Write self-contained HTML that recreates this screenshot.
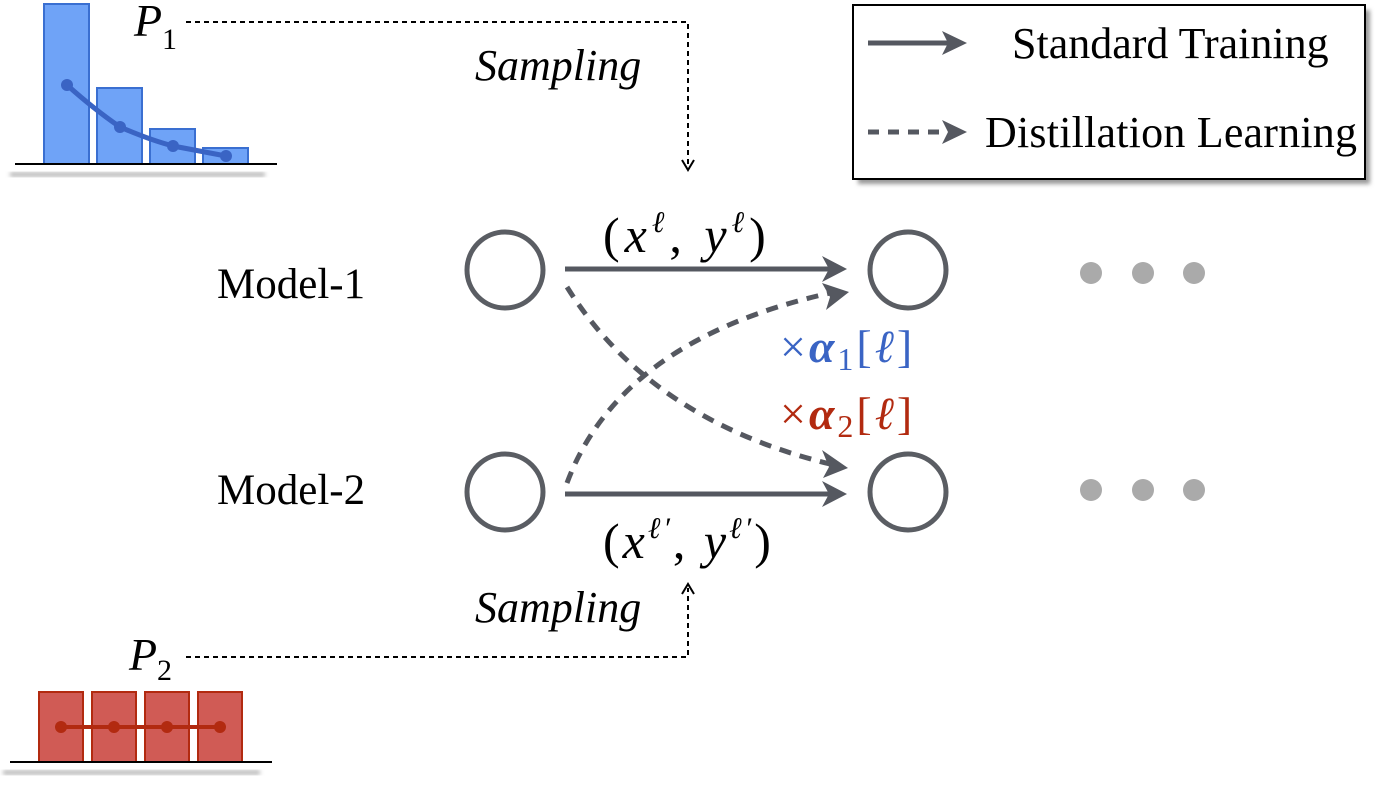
<!DOCTYPE html>
<html><head><meta charset="utf-8"><style>
html,body{margin:0;padding:0;background:#fff;}
svg{display:block;}
text{font-family:"Liberation Serif",serif;}
</style></head><body>
<svg width="1377" height="787" viewBox="0 0 1377 787" xmlns="http://www.w3.org/2000/svg">
<defs>
<filter id="blur"><feGaussianBlur stdDeviation="2"/></filter>
</defs>
<rect x="10" y="172" width="255" height="5" fill="#bbb" filter="url(#blur)"/>
<g fill="#6fa3f7" stroke="#3a6fd1" stroke-width="2">
<rect x="44" y="4" width="45" height="160"/>
<rect x="97" y="88" width="45" height="76"/>
<rect x="150" y="129" width="45" height="35"/>
<rect x="203" y="148" width="45" height="16"/>
</g>
<path d="M67 85 Q95 110 120 127 Q150 140 173 146 L226 156" fill="none" stroke="#3a64c4" stroke-width="5"/>
<g fill="#3a64c4"><circle cx="67" cy="85" r="6"/><circle cx="120" cy="127" r="6"/><circle cx="173" cy="146" r="6"/><circle cx="226" cy="156" r="6"/></g>
<line x1="15" y1="164" x2="277" y2="164" stroke="#000" stroke-width="2"/>
<text x="134" y="36" font-size="46" font-style="italic">P</text><text x="162" y="49" font-size="30">1</text>
<rect x="3" y="770" width="257" height="5" fill="#bbb" filter="url(#blur)"/>
<g fill="#d05b55" stroke="#b22a10" stroke-width="2">
<rect x="39" y="692" width="44" height="70"/>
<rect x="92" y="692" width="44" height="70"/>
<rect x="145" y="692" width="44" height="70"/>
<rect x="198" y="692" width="44" height="70"/>
</g>
<line x1="61" y1="727" x2="220" y2="727" stroke="#b22a10" stroke-width="4"/>
<g fill="#b22a10"><circle cx="61" cy="727" r="6"/><circle cx="114" cy="727" r="6"/><circle cx="167" cy="727" r="6"/><circle cx="220" cy="727" r="6"/></g>
<line x1="10" y1="762" x2="272" y2="762" stroke="#000" stroke-width="2"/>
<text x="129" y="670" font-size="46" font-style="italic">P</text><text x="157" y="680" font-size="30">2</text>
<path d="M186 22 H688 V165" fill="none" stroke="#000" stroke-width="2" stroke-dasharray="5,4"/>
<path d="M682 160 L688 170 L694 160" fill="none" stroke="#000" stroke-width="2"/>
<path d="M186 657 H688 V588" fill="none" stroke="#000" stroke-width="2" stroke-dasharray="5,4"/>
<path d="M682 594 L688 584 L694 594" fill="none" stroke="#000" stroke-width="2"/>
<text x="475" y="80" font-size="44" font-style="italic">Sampling</text>
<text x="475" y="622" font-size="44" font-style="italic">Sampling</text>
<text x="217" y="298" font-size="43">Model-1</text>
<text x="217" y="504" font-size="43">Model-2</text>
<g fill="none" stroke="#5a5d63" stroke-width="5">
<circle cx="505" cy="270" r="38"/><circle cx="908" cy="270" r="38"/>
<circle cx="505" cy="492" r="38"/><circle cx="908" cy="492" r="38"/>
</g>
<g stroke="#555860" stroke-width="5" fill="#555860">
<line x1="565" y1="269" x2="835" y2="269"/>
<line x1="565" y1="494" x2="835" y2="494"/>
</g>
<g fill="#555860">
<path d="M822 256 L847 269 L822 282 L829 269Z"/>
<path d="M822 481 L847 494 L822 507 L829 494Z"/>
</g>
<g fill="none" stroke="#555860" stroke-width="5" stroke-dasharray="12,9">
<path d="M567 287 Q650 420 830 464"/>
<path d="M567 483 Q620 340 830 293"/>
</g>
<g fill="#555860">
<path d="M822 450 L848 468 L823 478 L829 467Z"/>
<path d="M822 283 L849 292 L826 310 L830 297Z"/>
</g>
<text x="603" y="252" font-size="50" letter-spacing="5">(<tspan font-style="italic">x</tspan><tspan font-size="30" dy="-20" font-style="italic">ℓ</tspan><tspan dy="20">, </tspan><tspan font-style="italic">y</tspan><tspan font-size="30" dy="-20" font-style="italic">ℓ</tspan><tspan dy="20">)</tspan></text>
<text x="603" y="558" font-size="50" letter-spacing="3">(<tspan font-style="italic">x</tspan><tspan font-size="30" dy="-20" font-style="italic">ℓ′</tspan><tspan dy="20">, </tspan><tspan font-style="italic">y</tspan><tspan font-size="30" dy="-20" font-style="italic">ℓ′</tspan><tspan dy="20">)</tspan></text>
<text x="780" y="362" font-size="46" fill="#3a64c4" letter-spacing="3">×<tspan font-weight="bold" font-style="italic">α</tspan><tspan font-size="32" dy="8">1</tspan><tspan dy="-8">[</tspan><tspan font-style="italic">ℓ</tspan>]</text>
<text x="780" y="429" font-size="46" fill="#b22a10" letter-spacing="3">×<tspan font-weight="bold" font-style="italic">α</tspan><tspan font-size="32" dy="8">2</tspan><tspan dy="-8">[</tspan><tspan font-style="italic">ℓ</tspan>]</text>
<g fill="#aaa">
<circle cx="1091" cy="273" r="11"/><circle cx="1143" cy="273" r="11"/><circle cx="1194" cy="273" r="11"/>
<circle cx="1091" cy="490" r="11"/><circle cx="1143" cy="490" r="11"/><circle cx="1194" cy="490" r="11"/>
</g>
<rect x="858" y="10" width="512" height="174" fill="#999" filter="url(#blur)"/>
<rect x="853" y="5" width="512" height="174" fill="#fff" stroke="#000" stroke-width="2"/>
<line x1="868" y1="43" x2="950" y2="43" stroke="#555860" stroke-width="5"/>
<path d="M942 31 L967 43 L942 55 L948 43Z" fill="#555860"/>
<line x1="868" y1="132" x2="950" y2="132" stroke="#555860" stroke-width="5" stroke-dasharray="11,9"/>
<path d="M942 120 L967 132 L942 144 L948 132Z" fill="#555860"/>
<text x="1012" y="58" font-size="44">Standard Training</text>
<text x="985" y="147" font-size="44" textLength="372">Distillation Learning</text>
</svg>
</body></html>
